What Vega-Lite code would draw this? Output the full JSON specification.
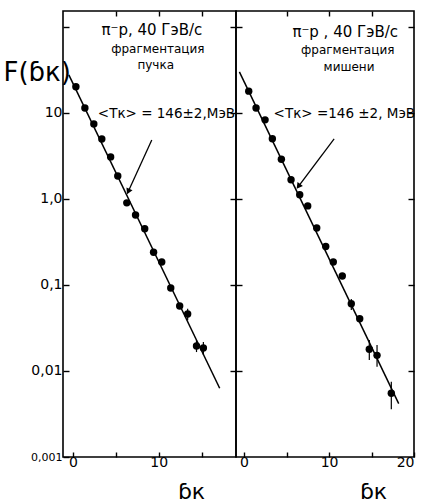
{
  "$schema": "https://vega.github.io/schema/vega-lite/v6.json",
  "padding": {"left": 2, "top": 9, "right": 2, "bottom": 4},
  "background": "white",
  "spacing": 0,
  "bounds": "flush",
  "config": {
    "view": {"stroke": "black", "strokeWidth": 1.6},
    "axis": {"domain": false, "grid": false, "tickColor": "black", "tickWidth": 1.4, "labelColor": "black", "labelFont": "DejaVu Sans", "labelFontSize": 14, "titleColor": "black", "titleFont": "DejaVu Sans", "titleFontWeight": "normal"}
  },
  "datasets": {
    "beam": [
      {"pk": 0.35, "F": 20.1}, {"pk": 1.4, "F": 11.4}, {"pk": 2.44, "F": 7.45}, {"pk": 3.37, "F": 4.98},
      {"pk": 4.4, "F": 3.08}, {"pk": 5.23, "F": 1.85}, {"pk": 6.28, "F": 0.9}, {"pk": 7.3, "F": 0.65},
      {"pk": 8.37, "F": 0.45}, {"pk": 9.4, "F": 0.24}, {"pk": 10.35, "F": 0.185}, {"pk": 11.4, "F": 0.092},
      {"pk": 12.44, "F": 0.057}, {"pk": 13.37, "F": 0.046, "lo": 0.039, "hi": 0.053}, {"pk": 14.4, "F": 0.0195, "lo": 0.0166, "hi": 0.0229},
      {"pk": 15.2, "F": 0.0185, "lo": 0.0154, "hi": 0.0217}
    ],
    "target": [
      {"pk": 0.55, "F": 17.9}, {"pk": 1.41, "F": 11.4}, {"pk": 2.47, "F": 8.3}, {"pk": 3.33, "F": 5.0},
      {"pk": 4.39, "F": 2.89}, {"pk": 5.53, "F": 1.67}, {"pk": 6.55, "F": 1.12}, {"pk": 7.49, "F": 0.83},
      {"pk": 8.55, "F": 0.46}, {"pk": 9.61, "F": 0.28}, {"pk": 10.5, "F": 0.185}, {"pk": 11.56, "F": 0.127},
      {"pk": 12.62, "F": 0.0605, "lo": 0.0512, "hi": 0.0688}, {"pk": 13.61, "F": 0.0405}, {"pk": 14.74, "F": 0.0179, "lo": 0.0134, "hi": 0.0229},
      {"pk": 15.65, "F": 0.0152, "lo": 0.0112, "hi": 0.0201}, {"pk": 17.33, "F": 0.0055, "lo": 0.0036, "hi": 0.0075}
    ],
    "beamFit": [{"pk": -0.47, "F": 27.7}, {"pk": 17.1, "F": 0.0063}],
    "targetFit": [{"pk": -0.55, "F": 30}, {"pk": 18.2, "F": 0.00417}],
    "beamArrow": [{"pk": 9.19, "F": 4.85, "pk2": 6.45, "F2": 1.22}],
    "targetArrow": [{"pk": 10.6, "F": 5.0, "pk2": 6.4, "F2": 1.4}],
    "beamText": [
      {"pk": 9.2, "F": 92, "t": "π⁻p, 40 ГэВ/c", "kind": "head"},
      {"pk": 9.9, "F": 55.5, "t": "фрагментация", "kind": "sub"},
      {"pk": 9.65, "F": 36, "t": "пучка", "kind": "sub"},
      {"pk": 10.9, "F": 9.7, "t": "<Tк> = 146±2,МэВ", "kind": "mid"}
    ],
    "targetText": [
      {"pk": 11.9, "F": 87.5, "t": "π⁻p , 40 ГэВ/c", "kind": "head"},
      {"pk": 12.2, "F": 54, "t": "фрагментация", "kind": "sub"},
      {"pk": 12.35, "F": 34.3, "t": "мишени", "kind": "sub"},
      {"pk": 11.8, "F": 9.7, "t": "<Tк> =146 ±2, МэВ", "kind": "mid"}
    ]
  },
  "hconcat": [
    {
      "width": 173,
      "height": 446,
      "resolve": {"axis": {"x": "independent", "y": "independent"}},
      "layer": [
        {
          "data": {"name": "beamFit"},
          "mark": {"type": "line", "color": "black", "strokeWidth": 1.5},
          "encoding": {
            "x": {"field": "pk", "type": "quantitative", "scale": {"domain": [-1.15, 19], "nice": false, "zero": false},
              "axis": {"orient": "bottom", "values": [0, 5, 10, 15], "labelExpr": "datum.value % 10 == 0 ? datum.label : ''", "tickSize": -5, "labelPadding": 3, "title": "ɓк", "titleFontSize": 22, "titleX": 128, "titleY": 41, "titleAlign": "center", "titleBaseline": "alphabetic"}},
            "y": {"field": "F", "type": "quantitative", "scale": {"type": "log", "domain": [0.001, 153], "nice": false, "zero": false},
              "axis": {"orient": "left", "values": [0.001, 0.01, 0.1, 1, 10, 100], "labelExpr": "datum.value == 100 ? '' : datum.value == 10 ? '10' : datum.value == 1 ? '1,0' : datum.value == 0.1 ? '0,1' : datum.value == 0.01 ? '0,01' : '0,001'", "labelFontSize": {"condition": {"test": "datum.value < 0.005", "value": 11}, "value": 14}, "tickSize": -6, "labelPadding": 7, "title": "F(ɓк)", "titleAngle": 0, "titleFontSize": 26, "titleX": -60, "titleY": 61, "titleAlign": "left", "titleBaseline": "middle"}}
          }
        },
        {
          "data": {"name": "beam"},
          "mark": {"type": "point", "filled": true, "color": "black", "size": 55, "opacity": 1},
          "encoding": {
            "x": {"field": "pk", "type": "quantitative", "axis": {"orient": "top", "values": [5, 10, 15], "labels": false, "tickSize": -5, "title": null}},
            "y": {"field": "F", "type": "quantitative", "axis": {"orient": "right", "values": [0.01, 0.1, 1, 10, 100], "labels": false, "tickSize": -6, "title": null}}
          }
        },
        {
          "data": {"name": "beam"},
          "transform": [{"filter": "isValid(datum.lo)"}],
          "mark": {"type": "rule", "color": "black", "strokeWidth": 1.2},
          "encoding": {
            "x": {"field": "pk", "type": "quantitative", "axis": null},
            "y": {"field": "lo", "type": "quantitative", "axis": null},
            "y2": {"field": "hi"}
          }
        },
        {
          "data": {"name": "beamArrow"},
          "mark": {"type": "rule", "color": "black", "strokeWidth": 1.3},
          "encoding": {
            "x": {"field": "pk", "type": "quantitative", "axis": null},
            "y": {"field": "F", "type": "quantitative", "axis": null},
            "x2": {"field": "pk2"},
            "y2": {"field": "F2"}
          }
        },
        {
          "data": {"name": "beamArrow"},
          "mark": {"type": "point", "filled": true, "color": "black", "opacity": 1, "shape": "triangle-down", "size": 45, "angle": 25},
          "encoding": {
            "x": {"field": "pk2", "type": "quantitative", "axis": null},
            "y": {"field": "F2", "type": "quantitative", "axis": null}
          }
        },
        {
          "data": {"name": "beamText"},
          "mark": {"type": "text", "color": "black", "font": "DejaVu Sans", "align": "center", "baseline": "middle"},
          "encoding": {
            "x": {"field": "pk", "type": "quantitative", "axis": null},
            "y": {"field": "F", "type": "quantitative", "axis": null},
            "text": {"field": "t"},
            "size": {"condition": [{"test": "datum.kind == 'sub'", "value": 12}, {"test": "datum.kind == 'mid'", "value": 13.5}], "value": 15},
            "fontWeight": {"condition": {"test": "datum.kind == 'sub'", "value": "bold"}, "value": "normal"}
          }
        }
      ]
    },
    {
      "width": 178,
      "height": 446,
      "resolve": {"axis": {"x": "independent", "y": "independent"}},
      "layer": [
        {
          "data": {"name": "targetFit"},
          "mark": {"type": "line", "color": "black", "strokeWidth": 1.5},
          "encoding": {
            "x": {"field": "pk", "type": "quantitative", "scale": {"domain": [-0.95, 20], "nice": false, "zero": false},
              "axis": {"orient": "bottom", "values": [0, 5, 10, 15, 20], "labelExpr": "datum.value % 10 == 0 ? datum.label : ''", "tickSize": -5, "labelPadding": 3, "title": "ɓк", "titleFontSize": 22, "titleX": 137, "titleY": 41, "titleAlign": "center", "titleBaseline": "alphabetic"}},
            "y": {"field": "F", "type": "quantitative", "scale": {"type": "log", "domain": [0.001, 153], "nice": false, "zero": false},
              "axis": {"orient": "left", "values": [0.01, 0.1, 1, 10, 100], "labels": false, "tickSize": -6, "title": null}}
          }
        },
        {
          "data": {"name": "target"},
          "mark": {"type": "point", "filled": true, "color": "black", "size": 55, "opacity": 1},
          "encoding": {
            "x": {"field": "pk", "type": "quantitative", "axis": {"orient": "top", "values": [5, 10, 15], "labels": false, "tickSize": -5, "title": null}},
            "y": {"field": "F", "type": "quantitative", "axis": {"orient": "right", "values": [0.01, 0.1, 1, 10, 100], "labels": false, "tickSize": -6, "title": null}}
          }
        },
        {
          "data": {"name": "target"},
          "transform": [{"filter": "isValid(datum.lo)"}],
          "mark": {"type": "rule", "color": "black", "strokeWidth": 1.2},
          "encoding": {
            "x": {"field": "pk", "type": "quantitative", "axis": null},
            "y": {"field": "lo", "type": "quantitative", "axis": null},
            "y2": {"field": "hi"}
          }
        },
        {
          "data": {"name": "targetArrow"},
          "mark": {"type": "rule", "color": "black", "strokeWidth": 1.3},
          "encoding": {
            "x": {"field": "pk", "type": "quantitative", "axis": null},
            "y": {"field": "F", "type": "quantitative", "axis": null},
            "x2": {"field": "pk2"},
            "y2": {"field": "F2"}
          }
        },
        {
          "data": {"name": "targetArrow"},
          "mark": {"type": "point", "filled": true, "color": "black", "opacity": 1, "shape": "triangle-down", "size": 45, "angle": 37},
          "encoding": {
            "x": {"field": "pk2", "type": "quantitative", "axis": null},
            "y": {"field": "F2", "type": "quantitative", "axis": null}
          }
        },
        {
          "data": {"name": "targetText"},
          "mark": {"type": "text", "color": "black", "font": "DejaVu Sans", "align": "center", "baseline": "middle"},
          "encoding": {
            "x": {"field": "pk", "type": "quantitative", "axis": null},
            "y": {"field": "F", "type": "quantitative", "axis": null},
            "text": {"field": "t"},
            "size": {"condition": [{"test": "datum.kind == 'sub'", "value": 12}, {"test": "datum.kind == 'mid'", "value": 13.5}], "value": 15},
            "fontWeight": {"condition": {"test": "datum.kind == 'sub'", "value": "bold"}, "value": "normal"}
          }
        }
      ]
    }
  ]
}
